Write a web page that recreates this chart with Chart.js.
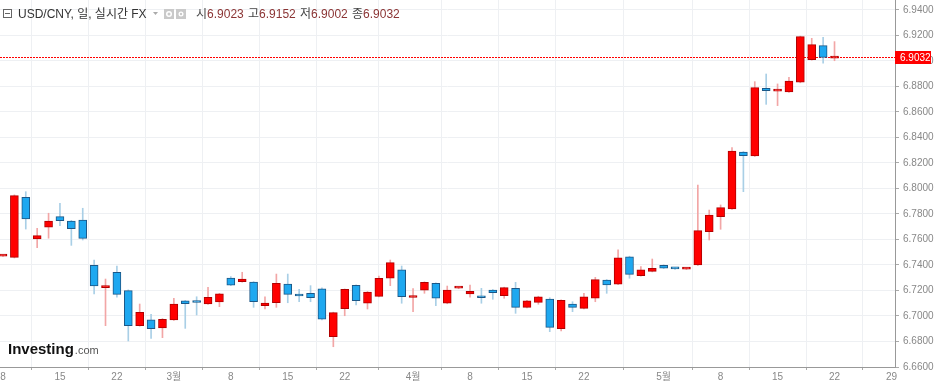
<!DOCTYPE html>
<html><head><meta charset="utf-8">
<script src="https://cdn.jsdelivr.net/npm/chart.js@4.4.0/dist/chart.umd.min.js"></script>
<style>html,body{margin:0;padding:0;background:#fff;overflow:hidden}</style>
</head><body>
<canvas id="c" width="936" height="381"></canvas>
<script>
// ---- data (USD/CNY daily, Feb 8 – May 22 2019) ----
const dates = ["2019-02-08","2019-02-11","2019-02-12","2019-02-13","2019-02-14","2019-02-15","2019-02-18","2019-02-19","2019-02-20","2019-02-21","2019-02-22","2019-02-25","2019-02-26","2019-02-27","2019-02-28",
"2019-03-01","2019-03-04","2019-03-05","2019-03-06","2019-03-07","2019-03-08","2019-03-11","2019-03-12","2019-03-13","2019-03-14","2019-03-15","2019-03-18","2019-03-19","2019-03-20","2019-03-21","2019-03-22","2019-03-25","2019-03-26","2019-03-27","2019-03-28","2019-03-29",
"2019-04-01","2019-04-02","2019-04-03","2019-04-04","2019-04-05","2019-04-08","2019-04-09","2019-04-10","2019-04-11","2019-04-12","2019-04-15","2019-04-16","2019-04-17","2019-04-18","2019-04-19","2019-04-22","2019-04-23","2019-04-24","2019-04-25","2019-04-26","2019-04-29","2019-04-30",
"2019-05-01","2019-05-02","2019-05-03","2019-05-06","2019-05-07","2019-05-08","2019-05-09","2019-05-10","2019-05-13","2019-05-14","2019-05-15","2019-05-16","2019-05-17","2019-05-20","2019-05-21","2019-05-22"];
const opens  = [6.7470,6.7460,6.7931,6.7604,6.7696,6.7779,6.7745,6.7753,6.7398,6.7222,6.7343,6.7199,6.6924,6.6969,6.6906,
6.6969,6.7118,6.7108,6.7094,6.7110,6.7298,6.7269,6.7267,6.7081,6.7104,6.7251,6.7170,6.7178,6.7214,6.6838,6.7057,6.7241,6.7100,6.7154,6.7296,6.7363,
6.7145,6.7202,6.7256,6.7100,6.7218,6.7173,6.7159,6.7204,6.7159,6.7217,6.7068,6.7107,6.7133,6.6900,6.7094,6.7060,6.7139,6.7282,6.7249,6.7465,6.7316,6.7350,
6.7398,6.7377,6.7368,6.7400,6.7661,6.7779,6.7839,6.8286,6.8255,6.8786,6.8764,6.8757,6.8833,6.9010,6.9120,6.9023];
const highs  = [6.7476,6.7950,6.7975,6.7688,6.7806,6.7884,6.7750,6.7845,6.7439,6.7290,6.7392,6.7205,6.7094,6.7013,6.6980,
6.7139,6.7122,6.7151,6.7225,6.7178,6.7309,6.7343,6.7270,6.7151,6.7329,6.7329,6.7209,6.7238,6.7220,6.7030,6.7212,6.7245,6.7192,6.7314,6.7439,6.7392,
6.7216,6.7268,6.7260,6.7235,6.7224,6.7243,6.7217,6.7208,6.7226,6.7264,6.7122,6.7155,6.7143,6.7127,6.7112,6.7178,6.7303,6.7286,6.7518,6.7469,6.7387,6.7447,
6.7402,6.7380,6.7375,6.8027,6.7831,6.7871,6.8320,6.8290,6.8838,6.8898,6.8820,6.8872,6.9195,6.9178,6.9186,6.9152];
const lows   = [6.7468,6.7455,6.7682,6.7536,6.7610,6.7708,6.7554,6.7596,6.7173,6.6924,6.7147,6.6804,6.6920,6.6825,6.6830,
6.6965,6.6903,6.7008,6.7090,6.7073,6.7238,6.7265,6.7068,6.7055,6.7068,6.7104,6.7112,6.7112,6.6970,6.6759,6.7002,6.7086,6.7055,6.7150,6.7238,6.7100,
6.7034,6.7178,6.7081,6.7096,6.7214,6.7147,6.7100,6.7131,6.7139,6.7021,6.7064,6.7092,6.6877,6.6882,6.7034,6.7056,6.7112,6.7178,6.7245,6.7296,6.7312,6.7346,
6.7372,6.7366,6.7365,6.7396,6.7596,6.7680,6.7835,6.7975,6.8251,6.8660,6.8650,6.8753,6.8829,6.9006,6.8982,6.9002];
const closes = [6.7474,6.7944,6.7761,6.7630,6.7745,6.7748,6.7685,6.7609,6.7235,6.7226,6.7170,6.6924,6.7029,6.6900,6.6974,
6.7094,6.7096,6.7106,6.7147,6.7173,6.7241,6.7290,6.7112,6.7102,6.7256,6.7170,6.7157,6.7144,6.6976,6.7026,6.7209,6.7120,6.7188,6.7296,6.7418,6.7151,
6.7150,6.7264,6.7139,6.7204,6.7221,6.7194,6.7143,6.7183,6.7222,6.7068,6.7118,6.7151,6.6911,6.7123,6.7068,6.7151,6.7285,6.7243,6.7457,6.7327,6.7363,6.7374,
6.7376,6.7370,6.7372,6.7669,6.7792,6.7850,6.8294,6.8257,6.8791,6.8767,6.8768,6.8843,6.9191,6.9128,6.9029,6.9032];
// time-axis ticks (trading-day index) and labels
const tickIndex  = [0,5,10,15,20,25,30,36,41,46,51,58,63,68,73,78];
const tickLabels = ["8","15","22","3월","8","15","22","4월","8","15","22","5월","8","15","22","29"];
// price-axis ticks
const yTicks = [6.66,6.68,6.70,6.72,6.74,6.76,6.78,6.80,6.82,6.84,6.86,6.88,6.90,6.92,6.94];

// ---- styles ----
const RED='#ff0000', REDB='#b00000', REDW='#f2a6a6';
const BLUE='#1ea8f0', BLUEB='#1d5786', BLUEW='#a9cfe6';
const up = opens.map((o,i)=>closes[i]>=o);
const bodyData = opens.map((o,i)=>({x:i, y:[o, closes[i]]}));
const wickData = opens.map((o,i)=>({x:i, y:[lows[i], highs[i]]}));
const last = opens.length-1;

const overlay = {
  id:'overlay',
  beforeDatasetsDraw(chart){
    const {ctx, chartArea:a, scales:{y}} = chart;
    const py = Math.round(y.getPixelForValue(closes[last]))+0.5;
    ctx.save();
    ctx.strokeStyle='#ff0000'; ctx.lineWidth=1; ctx.setLineDash([2,1]);
    ctx.beginPath(); ctx.moveTo(a.left,py); ctx.lineTo(a.right,py); ctx.stroke();
    ctx.restore();
  },
  afterDraw(chart){
    const {ctx, chartArea:a, scales:{y}} = chart;
    ctx.save();
    // last price label
    const py = Math.round(y.getPixelForValue(closes[last]));
    ctx.fillStyle='#ff0000';
    ctx.fillRect(a.right, py-6, 36, 13);
    ctx.fillStyle='#ffffff'; ctx.font='10px "Liberation Sans"'; ctx.textBaseline='middle'; ctx.textAlign='left';
    ctx.fillText(closes[last].toFixed(4), a.right+5, py+1);
    // header
    ctx.textBaseline='alphabetic';
    ctx.strokeStyle='#666'; ctx.lineWidth=1;
    ctx.strokeRect(3.5,9.5,8,8);
    ctx.beginPath(); ctx.moveTo(5,13.5); ctx.lineTo(10,13.5); ctx.stroke();
    ctx.font='12px "Liberation Sans","Noto Sans CJK KR"'; ctx.fillStyle='#333';
    ctx.fillText('USD/CNY, 일, 실시간 FX', 18, 18);
    ctx.fillStyle='#aaa';
    ctx.beginPath(); ctx.moveTo(153,12); ctx.lineTo(158,12); ctx.lineTo(155.5,15); ctx.closePath(); ctx.fill();
    [164,176].forEach((ix,k)=>{
      ctx.fillStyle='#c9c9c9'; ctx.fillRect(ix,9,10,10);
      ctx.fillStyle='#fff'; ctx.beginPath(); ctx.arc(ix+5,14,k?2.5:3,0,Math.PI*2); ctx.fill();
      ctx.fillStyle='#c9c9c9'; ctx.beginPath(); ctx.arc(ix+5,14,k?1.2:1.5,0,Math.PI*2); ctx.fill();
    });
    const lab=['시','고','저','종'], val=[opens[last],highs[last],lows[last],closes[last]], xs=[196,248,300,352];
    lab.forEach((l,k)=>{
      ctx.font='12px "Noto Sans CJK KR"'; ctx.fillStyle='#444';
      ctx.fillText(l, xs[k], 18);
      const w=ctx.measureText(l).width;
      ctx.font='12px "Liberation Sans"'; ctx.fillStyle='#8b3434';
      ctx.fillText(val[k].toFixed(4), xs[k]+w, 18);
    });
    // logo
    ctx.font='bold 15px "Liberation Sans"'; ctx.fillStyle='#111';
    ctx.fillText('Investing', 8, 354);
    const lw=ctx.measureText('Investing').width;
    ctx.font='11px "Liberation Sans"'; ctx.fillStyle='#555';
    ctx.fillText('.com', 8+lw+1, 354);
    ctx.restore();
  }
};

const noPad = s=>{s.paddingTop=0; s.paddingBottom=0; s.paddingLeft=0; s.paddingRight=0;};

new Chart(document.getElementById('c'), {
  type:'bar',
  data:{datasets:[
    {label:'body', data:bodyData, order:0, barThickness:8, grouped:false,
     backgroundColor:up.map(u=>u?RED:BLUE), borderColor:up.map(u=>u?REDB:BLUEB),
     borderWidth:1, borderSkipped:false, minBarLength:2},
    {label:'wick', data:wickData, order:1, barThickness:1, grouped:false,
     backgroundColor:up.map(u=>u?REDW:BLUEW), borderWidth:0}
  ]},
  options:{
    responsive:false, animation:false, devicePixelRatio:1,
    layout:{padding:0},
    plugins:{legend:{display:false}, tooltip:{enabled:false}},
    scales:{
      x:{type:'linear', position:'bottom', min:-0.263, max:78.31, offset:false,
        afterBuildTicks:s=>{s.ticks=tickIndex.map(v=>({value:v}));},
        afterFit:s=>{s.height=14; noPad(s);},
        ticks:{autoSkip:false, maxRotation:0, padding:1, color:'#888',
          font:{size:10, family:'"Liberation Sans","Noto Sans CJK KR"'},
          callback:(v)=>{const k=tickIndex.indexOf(v); return k>=0?tickLabels[k]:'';}},
        grid:{color:'#eef0f3', tickColor:'#aaa', tickLength:3},
        border:{color:'#999'}},
      y:{position:'right', min:6.66, max:6.94784,
        afterBuildTicks:s=>{s.ticks=yTicks.map(v=>({value:v}));},
        afterFit:s=>{s.width=41; noPad(s);},
        ticks:{padding:4, color:'#888', font:{size:10, family:'"Liberation Sans"'},
          callback:v=>Number(v).toFixed(4)},
        grid:{color:'#eef0f3', tickColor:'#aaa', tickLength:4},
        border:{color:'#999'}}
    }
  },
  plugins:[overlay]
});
</script>
</body></html>
